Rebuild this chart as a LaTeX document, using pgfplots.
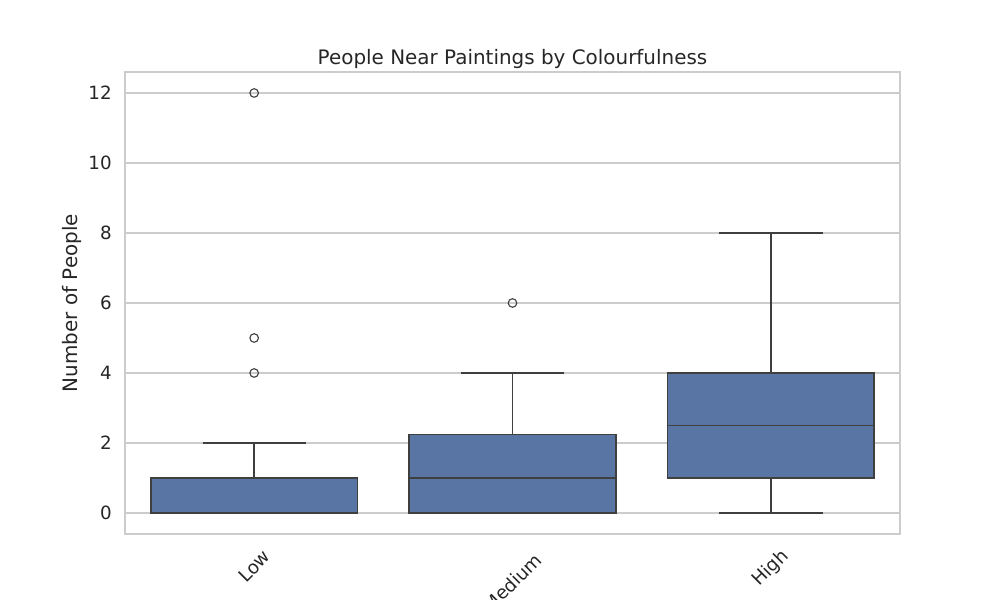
\documentclass[border=0pt]{standalone}
\usepackage{pgfplots}
\pgfplotsset{compat=1.18}
\usepgfplotslibrary{statistics}
\usepackage{fontspec}
\setmainfont{DejaVu Sans}

\definecolor{boxblue}{HTML}{5875A4}
\definecolor{edge}{HTML}{3F3F3F}
\definecolor{gridgray}{HTML}{CCCCCC}
\definecolor{txt}{HTML}{262626}

% pad a rotated tick label so that its box centre drops on the page
\newcommand{\padlabel}[2]{\raisebox{0pt}[\dimexpr\height+#1\relax][\depth]{#2\hspace*{#1}}}

\begin{document}
\begin{tikzpicture}
	\begin{axis}[
			at={(0,0)}, anchor=south west,
			scale only axis,
			width=560.09pt, height=333.89pt,
			xmin=-0.5, xmax=2.5,
			ymin=-0.6, ymax=12.6,
			xtick={0,1,2},
			xticklabels={Low,\padlabel{16.3pt}{Medium},\padlabel{2pt}{High}},
			ytick={0,2,...,12},
			ymajorgrids,
			grid style={draw=gridgray, line width=0.8pt},
			axis line style={draw=gridgray, line width=1pt},
			major tick length=0pt,
			tick label style={font=\fontsize{13.2}{15}\selectfont, text=txt},
			/pgf/number format/assume math mode=true,
			yticklabel style={anchor=east, inner sep=0pt, xshift=-9.4pt},
			xticklabel style={rotate=45, anchor=center, inner sep=0pt},
			xticklabel shift=23.5pt,
			title={People Near Paintings by Colourfulness},
			every axis title/.style={at={(axis description cs:0.5,1)}, anchor=base,
				inner sep=0pt, yshift=5.3pt,
				font=\fontsize{14.4}{17}\selectfont, text=txt},
			ylabel={Number of People},
			every axis y label/.style={at={(axis description cs:-0.0619,0.5)},
				rotate=90, anchor=base, inner sep=0pt,
				font=\fontsize{14.4}{17}\selectfont, text=txt},
			boxplot/draw direction=y,
			boxplot/box extend=0.8,
			boxplot/whisker extend=0.4,
			boxplot/every median/.style={draw=edge, line width=1.05pt},
			boxplot/every whisker/.style={draw=edge, line width=1.05pt},
			boxplot/every box/.style={draw=edge, fill=boxblue, line width=1.05pt},
		]
		\addplot[draw=edge, line width=1.05pt, mark=o,
			mark options={draw=edge, line width=0.8pt, mark size=3.1pt, fill=none},
			boxplot prepared={draw position=0, lower whisker=0, lower quartile=0,
				median=0, upper quartile=1, upper whisker=2}]
			table[row sep=\\, y index=0] {y\\ 4\\ 5\\ 12\\};
		\addplot[draw=edge, line width=1.05pt, mark=o,
			mark options={draw=edge, line width=0.8pt, mark size=3.1pt, fill=none},
			boxplot prepared={draw position=1, lower whisker=0, lower quartile=0,
				median=1, upper quartile=2.25, upper whisker=4}]
			table[row sep=\\, y index=0] {y\\ 6\\};
		\addplot[draw=edge, line width=1.05pt, mark=o,
			mark options={draw=edge, line width=0.8pt, mark size=3.1pt, fill=none},
			boxplot prepared={draw position=2, lower whisker=0, lower quartile=1,
				median=2.5, upper quartile=4, upper whisker=8}]
			coordinates {};
	\end{axis}
	\pgfresetboundingbox
	\path (-90.34pt,-47.70pt) rectangle (632.36pt,385.92pt);
\end{tikzpicture}
\end{document}
